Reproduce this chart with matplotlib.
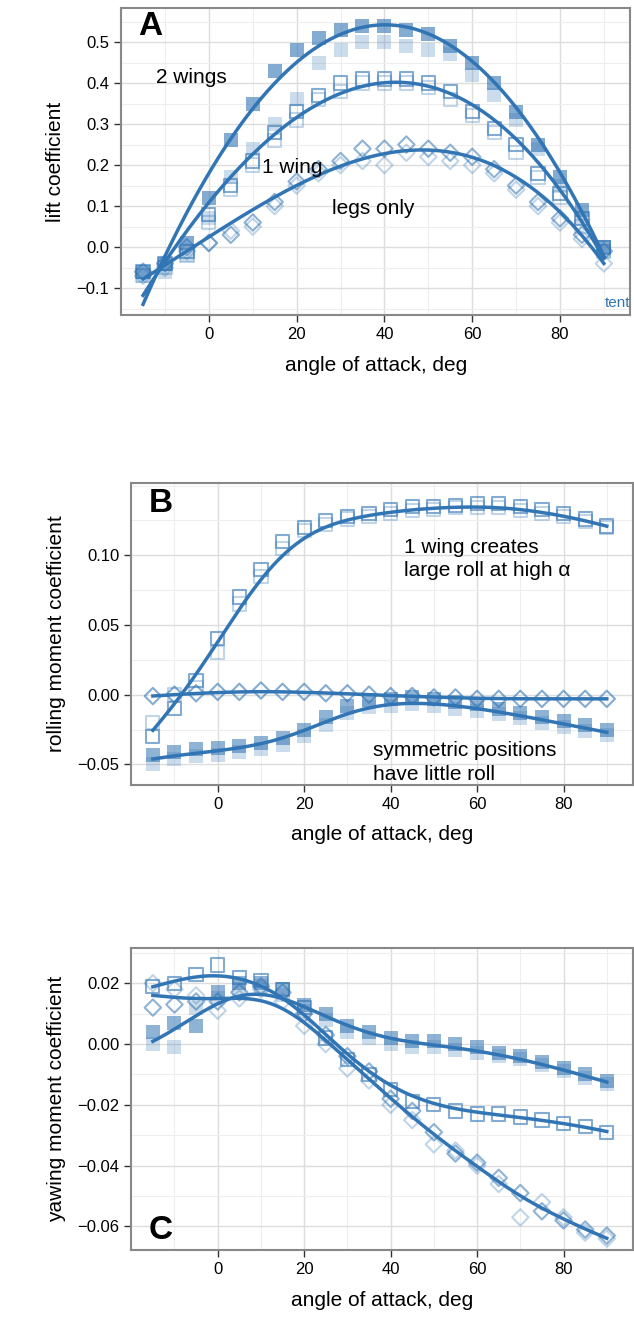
import numpy as np
import matplotlib.pyplot as plt
from matplotlib.ticker import MultipleLocator, FixedLocator

plt.rcParams['font.family'] = ['Liberation Sans', 'DejaVu Sans']

angles = np.arange(-15, 91, 5)

# panel A: lift coefficient
lift_2w = [-0.06, -0.04, 0.01, 0.12, 0.26, 0.35, 0.43, 0.48, 0.51, 0.53, 0.54,
           0.54, 0.53, 0.52, 0.49, 0.45, 0.40, 0.33, 0.25, 0.17, 0.09, 0.00]
lift_2w_b = [-0.07, -0.06, -0.02, 0.07, 0.17, 0.24, 0.30, 0.36, 0.45, 0.48, 0.50,
             0.50, 0.49, 0.48, 0.47, 0.42, 0.37, 0.31, 0.24, 0.15, 0.07, -0.01]
lift_1w = [-0.06, -0.04, -0.01, 0.08, 0.15, 0.21, 0.28, 0.33, 0.37, 0.40, 0.41,
           0.41, 0.41, 0.40, 0.38, 0.33, 0.29, 0.25, 0.18, 0.13, 0.07, 0.00]
lift_1w_b = [-0.07, -0.05, -0.02, 0.06, 0.14, 0.20, 0.26, 0.31, 0.36, 0.38, 0.40,
             0.40, 0.40, 0.39, 0.36, 0.32, 0.28, 0.23, 0.17, 0.12, 0.05, -0.01]
lift_legs = [-0.06, -0.04, 0.00, 0.01, 0.03, 0.06, 0.11, 0.16, 0.19, 0.21, 0.24,
             0.24, 0.25, 0.24, 0.23, 0.22, 0.19, 0.15, 0.11, 0.07, 0.03, -0.01]
lift_legs_b = [-0.07, -0.05, -0.01, 0.01, 0.04, 0.05, 0.10, 0.15, 0.18, 0.20, 0.21,
               0.20, 0.23, 0.22, 0.21, 0.20, 0.18, 0.14, 0.10, 0.06, 0.02, -0.04]

# panel B: rolling moment coefficient
roll_1w = [-0.030, -0.010, 0.010, 0.040, 0.070, 0.090, 0.110, 0.120, 0.125, 0.128, 0.130,
           0.133, 0.135, 0.135, 0.136, 0.137, 0.137, 0.135, 0.133, 0.130, 0.126, 0.121]
roll_1w_b = [-0.020, 0.000, 0.005, 0.030, 0.065, 0.085, 0.105, 0.118, 0.122, 0.126, 0.128,
             0.130, 0.132, 0.133, 0.134, 0.134, 0.134, 0.132, 0.130, 0.128, 0.124, 0.120]
roll_legs = [-0.001, 0.000, 0.001, 0.002, 0.002, 0.003, 0.002, 0.002, 0.001, 0.001, 0.000,
             -0.001, -0.001, -0.002, -0.002, -0.003, -0.003, -0.003, -0.003, -0.003, -0.003, -0.003]
roll_2w = [-0.043, -0.041, -0.039, -0.038, -0.037, -0.035, -0.031, -0.025, -0.016, -0.008, -0.004,
           -0.003, -0.002, -0.003, -0.005, -0.007, -0.010, -0.013, -0.016, -0.019, -0.022, -0.025]
roll_2w_b = [-0.050, -0.046, -0.044, -0.043, -0.041, -0.039, -0.036, -0.030, -0.022, -0.013, -0.009,
             -0.008, -0.007, -0.008, -0.010, -0.012, -0.014, -0.017, -0.020, -0.023, -0.026, -0.029]

# panel C: yawing moment coefficient
yaw_2w = [0.004, 0.007, 0.006, 0.017, 0.020, 0.020, 0.018, 0.013, 0.010, 0.006, 0.004,
          0.002, 0.001, 0.001, 0.000, -0.001, -0.003, -0.004, -0.006, -0.008, -0.010, -0.012]
yaw_2w_b = [0.000, -0.001, 0.012, 0.015, 0.018, 0.019, 0.016, 0.011, 0.008, 0.004, 0.002,
            0.000, -0.001, -0.001, -0.002, -0.003, -0.004, -0.005, -0.007, -0.009, -0.011, -0.013]
yaw_1w = [0.019, 0.020, 0.023, 0.026, 0.022, 0.021, 0.018, 0.012, 0.002, -0.005, -0.010,
          -0.015, -0.019, -0.020, -0.022, -0.023, -0.023, -0.024, -0.025, -0.026, -0.027, -0.029]
yaw_legs = [0.012, 0.013, 0.014, 0.014, 0.017, 0.019, 0.017, 0.010, 0.003, -0.004, -0.009,
            -0.018, -0.022, -0.029, -0.036, -0.039, -0.044, -0.049, -0.055, -0.058, -0.061, -0.063]
yaw_legs_b = [0.020, 0.018, 0.016, 0.011, 0.015, 0.018, 0.014, 0.006, 0.000, -0.008, -0.012,
              -0.020, -0.025, -0.033, -0.035, -0.040, -0.046, -0.057, -0.052, -0.057, -0.062, -0.064]

x_ticks = [0, 20, 40, 60, 80]
BLUE = '#3275b4'


def smooth(x, y, bw=8.0):
    # local linear regression (loess-like) for the fit lines
    x = np.asarray(x, float)
    y = np.asarray(y, float)
    xs = np.linspace(x.min(), x.max(), 200)
    out = []
    for x0 in xs:
        w = np.exp(-0.5 * ((x - x0) / bw) ** 2)
        A = np.vstack([np.ones_like(x), x - x0]).T
        W = np.diag(w)
        beta = np.linalg.solve(A.T @ W @ A, A.T @ W @ y)
        out.append(beta[0])
    return xs, np.array(out)


def style(ax, ylim, yticks, ylabel):
    ax.set_xlim(-20, 96)
    ax.set_ylim(*ylim)
    ax.xaxis.set_major_locator(FixedLocator(x_ticks))
    ax.xaxis.set_minor_locator(MultipleLocator(10))
    ax.yaxis.set_major_locator(FixedLocator(yticks))
    step = yticks[1] - yticks[0]
    ax.yaxis.set_minor_locator(MultipleLocator(step / 2))
    ax.grid(which='major', color='#dddddd', lw=1.0)
    ax.grid(which='minor', color='#eeeeee', lw=0.8)
    ax.set_axisbelow(True)
    for s in ax.spines.values():
        s.set_color('#888888')
        s.set_linewidth(1.5)
    ax.tick_params(which='major', length=5, width=1, labelsize=12, color='#333333')
    ax.tick_params(which='minor', length=0)
    ax.set_xlabel('angle of attack, deg', fontsize=15, labelpad=10)
    ax.set_ylabel(ylabel, fontsize=15, labelpad=8)


def scatter(ax, y, marker, filled, alpha, size=90):
    if filled:
        ax.scatter(angles, y, marker=marker, s=size, color=BLUE, alpha=alpha, lw=0)
    else:
        ax.scatter(angles, y, marker=marker, s=size, facecolor='none',
                   edgecolor=BLUE, alpha=alpha, lw=1.5)


def fit(ax, ys, deg=None):
    y = np.mean(ys, axis=0)
    if deg is None:
        xs, ys_s = smooth(angles, y)
    else:
        xs = np.linspace(angles.min(), angles.max(), 200)
        ys_s = np.polyval(np.polyfit(angles, y, deg), xs)
    ax.plot(xs, ys_s, color=BLUE, lw=2.5)


fig = plt.figure(figsize=(6.34, 13.3), dpi=100)

# --- A ---
ax = fig.add_axes([0.191, 0.763, 0.803, 0.231])
scatter(ax, lift_2w_b, 's', True, 0.25)
scatter(ax, lift_2w, 's', True, 0.6)
scatter(ax, lift_1w_b, 's', False, 0.3)
scatter(ax, lift_1w, 's', False, 0.6)
scatter(ax, lift_legs_b, 'D', False, 0.3, 70)
scatter(ax, lift_legs, 'D', False, 0.55, 70)
fit(ax, [lift_2w], 3)
fit(ax, [lift_1w], 3)
fit(ax, [lift_legs], 3)
style(ax, (-0.166, 0.583), [-0.1, 0.0, 0.1, 0.2, 0.3, 0.4, 0.5], 'lift coefficient')
ax.text(-16, 0.575, 'A', fontsize=24, fontweight='bold', va='top')
ax.text(-12, 0.40, '2 wings', fontsize=15)
ax.text(12, 0.18, '1 wing', fontsize=15)
ax.text(28, 0.08, 'legs only', fontsize=15)
ax.text(96, -0.145, 'tent', fontsize=11, color=BLUE, ha='right')

# --- B ---
ax = fig.add_axes([0.207, 0.410, 0.791, 0.227])
scatter(ax, roll_1w_b, 's', False, 0.3)
scatter(ax, roll_1w, 's', False, 0.6)
scatter(ax, roll_legs, 'D', False, 0.6, 70)
scatter(ax, roll_2w_b, 's', True, 0.25)
scatter(ax, roll_2w, 's', True, 0.55)
fit(ax, [roll_1w, roll_1w_b])
fit(ax, [roll_legs])
fit(ax, [roll_2w, roll_2w_b])
style(ax, (-0.0646, 0.152), [-0.05, 0.0, 0.05, 0.10], 'rolling moment coefficient')
ax.text(-16, 0.148, 'B', fontsize=24, fontweight='bold', va='top')
ax.text(43, 0.085, '1 wing creates\nlarge roll at high α', fontsize=15, linespacing=1.3)
ax.text(36, -0.061, 'symmetric positions\nhave little roll', fontsize=15, linespacing=1.3)

# --- C ---
ax = fig.add_axes([0.207, 0.060, 0.791, 0.227])
scatter(ax, yaw_2w_b, 's', True, 0.25)
scatter(ax, yaw_2w, 's', True, 0.55)
scatter(ax, yaw_1w, 's', False, 0.6)
scatter(ax, yaw_legs_b, 'D', False, 0.3, 70)
scatter(ax, yaw_legs, 'D', False, 0.55, 70)
fit(ax, [yaw_2w, yaw_2w_b])
fit(ax, [yaw_1w])
fit(ax, [yaw_legs, yaw_legs_b])
style(ax, (-0.0678, 0.0315), [-0.06, -0.04, -0.02, 0.0, 0.02], 'yawing moment coefficient')
ax.text(-16, -0.0665, 'C', fontsize=24, fontweight='bold', va='bottom')

fig.savefig('out.png', dpi=100)
